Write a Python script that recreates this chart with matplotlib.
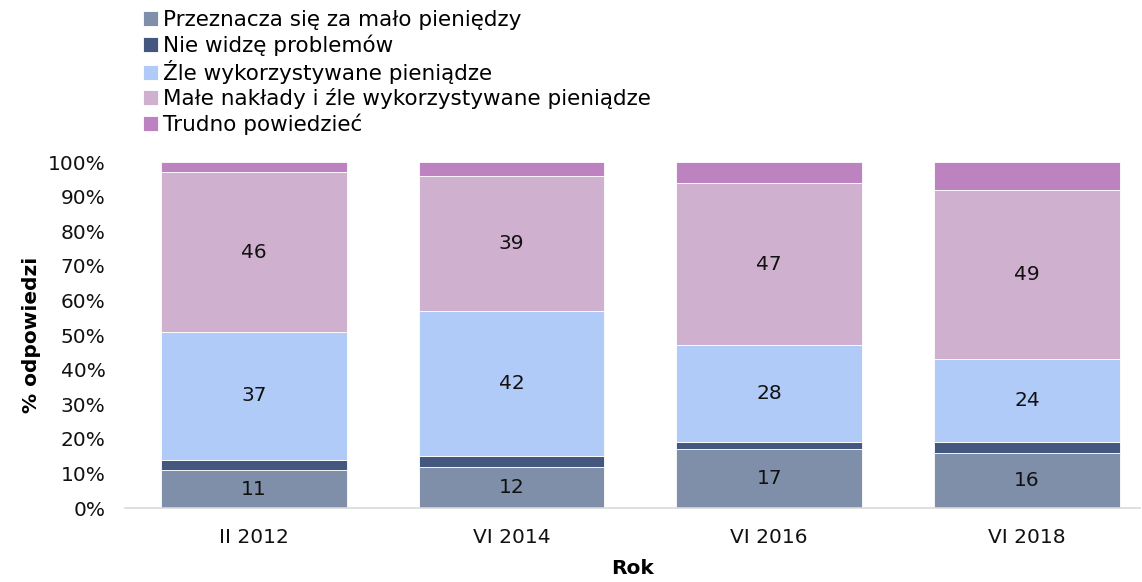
import numpy as np
import matplotlib.pyplot as plt
from matplotlib.ticker import PercentFormatter

# Data (values in %)
categories = ["II 2012", "VI 2014", "VI 2016", "VI 2018"]
series_names = [
    "Przeznacza się za mało pieniędzy",
    "Nie widzę problemów",
    "Źle wykorzystywane pieniądze",
    "Małe nakłady i źle wykorzystywane pieniądze",
    "Trudno powiedzieć",
]
za_malo = [11, 12, 17, 16]
nie_widze = [3, 3, 2, 3]
zle_wyk = [37, 42, 28, 24]
male_i_zle = [46, 39, 47, 49]
trudno = [3, 4, 6, 8]

colors = ["#7F8FA9", "#44587F", "#B1CBF9", "#CFB0CE", "#BD83C0"]
show_labels = [True, False, True, True, False]

series = [za_malo, nie_widze, zle_wyk, male_i_zle, trudno]
data = np.array(series, dtype=float)
pct = data / data.sum(axis=0) * 100

plt.rcParams['font.family'] = ['DejaVu Sans']

fig = plt.figure(figsize=(11.42, 5.82), dpi=100)
ax = fig.add_axes([0.1095, 0.127, 0.889, 0.5946])

x = np.arange(len(categories))
bottom = np.zeros(len(categories))
for i, name in enumerate(series_names):
    ax.bar(x, pct[i], 0.72, bottom=bottom, color=colors[i],
           label=name, edgecolor="white", linewidth=0.6)
    if show_labels[i]:
        for xi, b, h, v in zip(x, bottom, pct[i], data[i]):
            ax.text(xi, b + h / 2, f"{int(v)}", ha="center", va="center",
                    fontsize=14.5, color="#111111")
    bottom += pct[i]

ax.set_xlim(-0.5, 3.44)
ax.set_ylim(0, 100)
ax.set_yticks(np.arange(0, 101, 10))
ax.yaxis.set_major_formatter(PercentFormatter(decimals=0))
ax.set_xticks(x)
ax.set_xticklabels(categories)
ax.tick_params(axis="both", length=0, labelsize=14.5, colors="#111111")
ax.tick_params(axis="x", pad=14)
ax.tick_params(axis="y", pad=14)

for s in ["top", "right", "left"]:
    ax.spines[s].set_visible(False)
ax.spines["bottom"].set_color("#D9D9D9")
ax.spines["bottom"].set_linewidth(1.2)

ax.set_ylabel("% odpowiedzi", fontsize=14.5, fontweight="bold", labelpad=5)
ax.set_xlabel("Rok", fontsize=14.5, fontweight="bold", labelpad=9)

fig.legend(loc="upper left", bbox_to_anchor=(0.118, 0.998), frameon=False,
           fontsize=15.5, handlelength=0.7, handleheight=0.7,
           handletextpad=0.2, labelspacing=0.2, borderaxespad=0)

fig.savefig("out.png", dpi=100)
